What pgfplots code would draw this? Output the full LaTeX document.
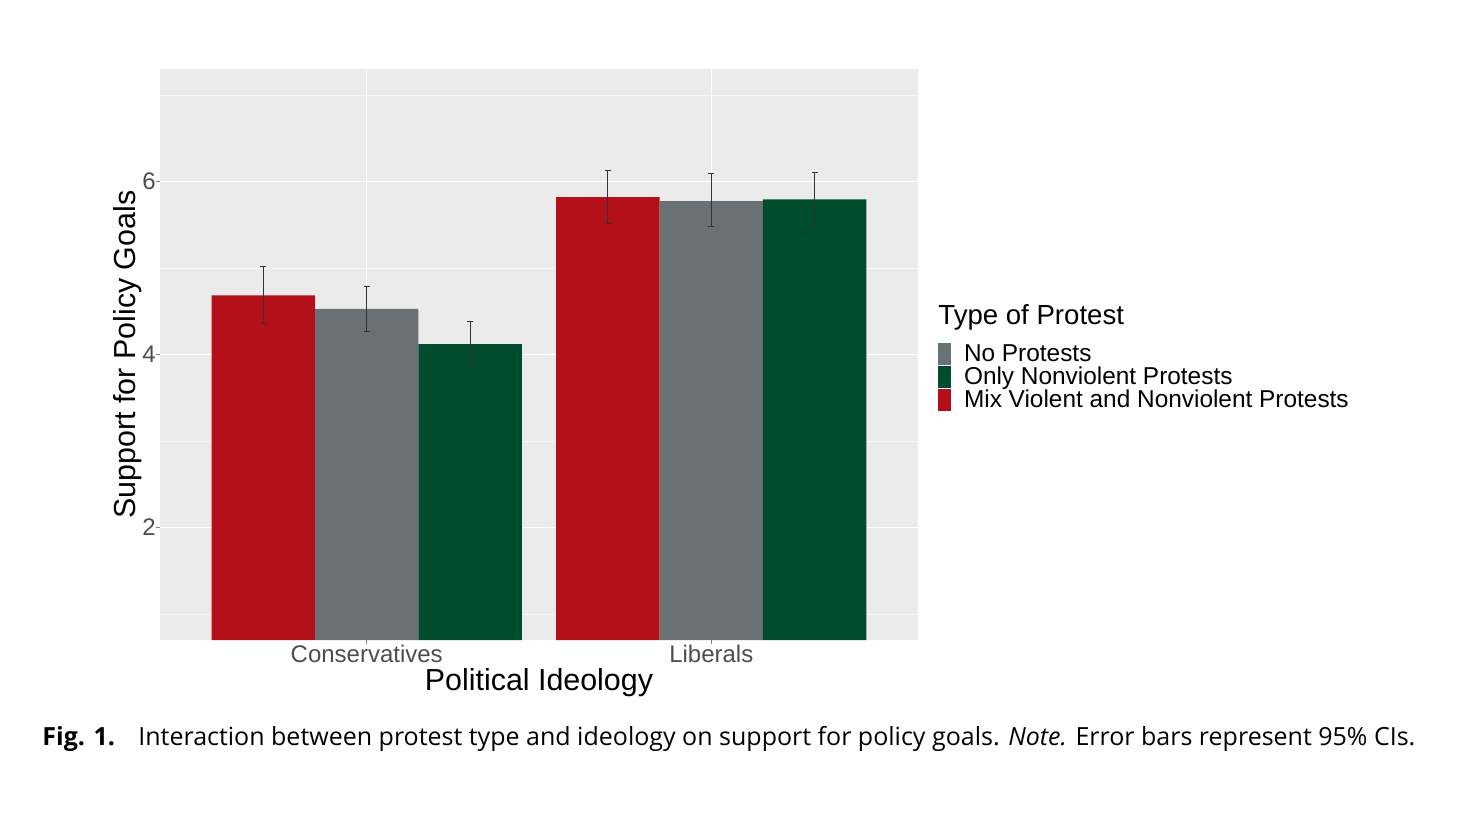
\documentclass[border=0pt]{standalone}
\usepackage{fontspec}
\setmainfont{Liberation Sans}
\newfontfamily\capfont{Open Sans}
\usepackage{pgfplots}
\pgfplotsset{compat=1.18}
\definecolor{ggbg}{HTML}{EBEBEB}
\definecolor{cred}{HTML}{B31019}
\definecolor{cgray}{HTML}{6A7174}
\definecolor{cgreen}{HTML}{004C2E}
\definecolor{ticklab}{HTML}{4D4D4D}
\begin{document}
\begin{tikzpicture}
\path[use as bounding box, fill=white] (0,0) rectangle (735pt,407pt);
\begin{axis}[
  at={(80pt,87pt)}, anchor=south west,
  scale only axis, width=379pt, height=285.5pt,
  xmin=0.4, xmax=2.6, ymin=0.70, ymax=7.30,
  axis background/.style={fill=ggbg},
  axis line style={draw=none},
  xtick={1,2}, xticklabels={Conservatives,Liberals},
  ytick={2,4,6}, minor ytick={1,3,5,7},
  xmajorgrids=true, ymajorgrids=true, yminorgrids=true,
  major grid style={white, line width=0.6pt},
  minor grid style={white!60!ggbg, line width=0.3pt},
  tick align=outside, xtick pos=left, ytick pos=left,
  major tick length=2pt, minor tick length=0pt,
  tick style={ticklab!70, line width=0.5pt},
  /pgf/number format/assume math mode=true,
  ticklabel style={font=\fontsize{12}{14}\selectfont, text=ticklab},
  xticklabel style={inner sep=0pt, anchor=base, yshift=-9.35pt},
  yticklabel style={inner sep=0pt, anchor=east, xshift=0pt},
  xlabel={Political Ideology},
  xlabel style={at={(axis description cs:0.5,0)}, anchor=base, yshift=-25pt, font=\fontsize{15.2}{18}\selectfont},
  ylabel={Support for Policy Goals},
  ylabel style={at={([xshift=-12.5pt]axis description cs:0,0.5)}, anchor=base, rotate=0, font=\fontsize{15.2}{18}\selectfont},
  legend image code/.code={\fill[#1] (0pt,-1.65pt) rectangle (6.5pt,9.6pt);},
  legend cell align=left,
  legend style={at={(axis description cs:1.0264,0.5219)}, anchor=north west,
    draw=none, fill=none, inner sep=0pt, outer sep=0pt, row sep=0pt, column sep=6.5pt,
    font=\fontsize{12.2}{14}\selectfont,
    nodes={inner sep=0pt, text height=9.85pt, text depth=1.4pt, anchor=base west}},
]
\addplot[ybar, bar width=0.3, bar shift=0pt, fill=cred, draw=none, forget plot,
  error bars/.cd, y dir=both, y explicit,
  error bar style={black!80, line width=0.5pt},
  error mark options={black!80, rotate=90, mark size=1.5pt, line width=0.5pt}]
  coordinates {(0.7,4.682) += (0,0.339) -= (0,0.327) (1.7,5.819) += (0,0.308) -= (0,0.301)};
\addplot[ybar, bar width=0.3, bar shift=0pt, fill=cgray, draw=none, forget plot,
  error bars/.cd, y dir=both, y explicit,
  error bar style={black!80, line width=0.5pt},
  error mark options={black!80, rotate=90, mark size=1.5pt, line width=0.5pt}]
  coordinates {(1,4.528) += (0,0.258) -= (0,0.259) (2,5.772) += (0,0.324) -= (0,0.296)};
\addplot[ybar, bar width=0.3, bar shift=0pt, fill=cgreen, draw=none, forget plot,
  error bars/.cd, y dir=both, y explicit,
  error bar style={black!80, line width=0.5pt},
  error mark options={black!80, rotate=90, mark size=1.5pt, line width=0.5pt}]
  coordinates {(1.3,4.119) += (0,0.266) -= (0,0.258) (2.3,5.792) += (0,0.308) -= (0,0.301)};
\addlegendimage{fill=cgray, draw=none}
\addlegendentry{No Protests}
\addlegendimage{fill=cgreen, draw=none}
\addlegendentry{Only Nonviolent Protests}
\addlegendimage{fill=cred, draw=none}
\addlegendentry{Mix Violent and Nonviolent Protests}
\end{axis}
\node[anchor=base west, inner sep=0pt, font=\fontsize{13.8}{16}\selectfont] at (469pt,244.5pt) {Type of Protest};
\node[anchor=base west, inner sep=0pt, font=\capfont\fontsize{12.5}{15}\selectfont\bfseries] at (21pt,34.5pt) {Fig. 1.};
\node[anchor=base west, inner sep=0pt, font=\capfont\fontsize{12.5}{15}\selectfont] at (69pt,34.5pt) {Interaction between protest type and ideology on support for policy goals. \emph{Note.} Error bars represent 95\% CIs.};
\end{tikzpicture}
\end{document}
